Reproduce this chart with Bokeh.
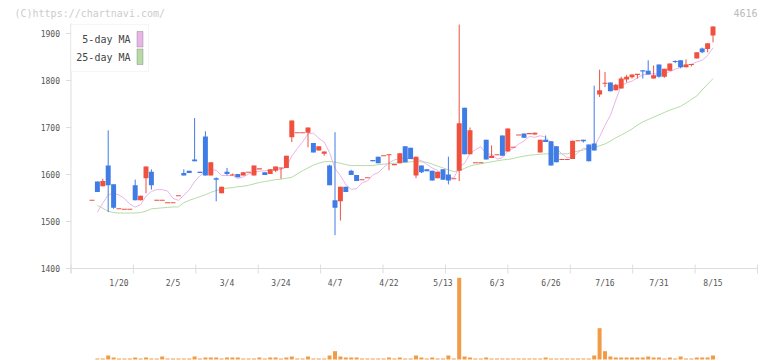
import numpy as np
from bokeh.plotting import figure
from bokeh.models import Range1d, Label, BoxAnnotation
from bokeh.core.properties import value
from bokeh.embed import file_html
from bokeh.resources import INLINE

nan = float("nan")

# ---------------- data ----------------
opens = [1545, 1585, 1575, 1619, 1579, 1527, 1526, 1526, 1577, 1545,
         1592, 1606, 1545, 1545, 1540, 1540, 1555, 1603, 1608, 1632,
         1606, 1681, 1598, 1592, 1560, 1606, 1598, 1601, 1598, 1605,
         1598, 1612, 1605, 1601, 1608, 1614, 1614, 1679, 1689, 1689,
         1689, 1667, 1651, 1644, 1619, 1545, 1543, 1574, 1608, 1599,
         1589, 1593, 1631, 1638, 1640, 1642, 1621, 1624, 1660, 1657,
         1598, 1619, 1611, 1608, 1592, 1611, 1600, 1591, 1608, 1742,
         1643, 1625, 1625, 1674, 1635, 1642, 1683, 1649, 1658, 1684,
         1687, 1687, 1685, 1647, 1674, 1671, 1660, 1632, 1632, 1633,
         1672, 1674, 1664, 1666, 1770, 1794, 1796, 1779, 1783, 1802,
         1807, 1813, 1821, 1821, 1804, 1834, 1808, 1821, 1841, 1843,
         1828, 1834, 1847, 1868, 1867, 1896]

highs = [1545, 1585, 1591, 1694, 1579, 1527, 1526, 1526, 1589, 1555,
         1617, 1611, 1546, 1545, 1540, 1540, 1555, 1611, 1608, 1720,
         1606, 1692, 1626, 1594, 1574, 1614, 1602, 1601, 1605, 1605,
         1619, 1612, 1605, 1611, 1617, 1614, 1640, 1715, 1689, 1689,
         1700, 1667, 1660, 1649, 1621, 1690, 1574, 1574, 1610, 1599,
         1589, 1593, 1631, 1638, 1640, 1642, 1621, 1645, 1660, 1657,
         1638, 1619, 1611, 1608, 1606, 1611, 1638, 1591, 1919, 1742,
         1700, 1625, 1625, 1674, 1662, 1642, 1683, 1698, 1658, 1684,
         1687, 1687, 1689, 1674, 1683, 1671, 1660, 1632, 1632, 1672,
         1672, 1674, 1664, 1789, 1823, 1818, 1796, 1793, 1808, 1812,
         1813, 1813, 1821, 1843, 1832, 1834, 1825, 1836, 1843, 1843,
         1845, 1834, 1860, 1870, 1879, 1915]

lows = [1545, 1563, 1575, 1520, 1527, 1527, 1526, 1526, 1545, 1545,
        1560, 1568, 1545, 1545, 1540, 1540, 1555, 1598, 1603, 1628,
        1603, 1598, 1598, 1543, 1560, 1598, 1598, 1594, 1598, 1605,
        1598, 1612, 1599, 1601, 1605, 1591, 1614, 1669, 1689, 1689,
        1658, 1647, 1651, 1640, 1577, 1471, 1502, 1563, 1599, 1586,
        1589, 1593, 1628, 1624, 1640, 1609, 1621, 1624, 1626, 1633,
        1592, 1603, 1607, 1587, 1592, 1589, 1579, 1591, 1586, 1643,
        1643, 1625, 1625, 1632, 1635, 1642, 1640, 1649, 1658, 1684,
        1678, 1687, 1685, 1647, 1669, 1619, 1626, 1632, 1632, 1633,
        1672, 1668, 1628, 1651, 1765, 1786, 1777, 1779, 1783, 1796,
        1804, 1804, 1804, 1813, 1804, 1806, 1806, 1821, 1837, 1826,
        1828, 1830, 1847, 1858, 1860, 1881]

closes = [1545, 1563, 1586, 1577, 1529, 1527, 1526, 1526, 1545, 1555,
          1617, 1577, 1545, 1545, 1540, 1540, 1555, 1598, 1603, 1628,
          1603, 1598, 1626, 1589, 1574, 1601, 1600, 1594, 1605, 1605,
          1619, 1612, 1599, 1611, 1617, 1614, 1640, 1715, 1689, 1689,
          1700, 1647, 1660, 1649, 1577, 1529, 1574, 1563, 1599, 1586,
          1589, 1593, 1628, 1624, 1640, 1642, 1621, 1645, 1626, 1633,
          1638, 1605, 1607, 1587, 1606, 1589, 1587, 1591, 1709, 1643,
          1694, 1625, 1625, 1632, 1640, 1642, 1640, 1698, 1658, 1684,
          1678, 1687, 1689, 1674, 1669, 1619, 1626, 1632, 1632, 1672,
          1672, 1671, 1628, 1651, 1779, 1794, 1777, 1791, 1804, 1808,
          1813, 1813, 1820, 1813, 1811, 1808, 1825, 1836, 1840, 1828,
          1834, 1834, 1860, 1860, 1879, 1915]

volumes = [0, 100, 100, 400, 200, 100, 100, 100, 200, 100,
           200, 100, 100, 300, 100, 100, 100, 100, 100, 300,
           100, 200, 200, 200, 100, 200, 200, 200, 100, 100,
           100, 200, 100, 200, 200, 100, 200, 300, 100, 100,
           300, 100, 100, 100, 400, 830, 300, 200, 200, 200,
           100, 100, 100, 100, 100, 200, 100, 200, 100, 100,
           400, 200, 100, 200, 100, 100, 400, 100, 8170, 300,
           200, 100, 100, 200, 100, 100, 100, 100, 100, 100,
           100, 100, 100, 100, 200, 100, 100, 100, 100, 100,
           100, 100, 100, 400, 3130, 830, 300, 200, 200, 200,
           200, 200, 200, 300, 200, 200, 100, 200, 100, 300,
           100, 100, 200, 200, 200, 400]

ma5 = [nan, 1520, 1539, 1557, 1560, 1556.4, 1549, 1537, 1530.6, 1535.8,
       1553.8, 1564, 1567.8, 1567.8, 1564.8, 1549.4, 1545, 1555.6, 1567.2, 1584.8,
       1597.4, 1606, 1611.6, 1608.8, 1598, 1597.6, 1598, 1591.6, 1594.8, 1601,
       1604.6, 1607, 1608, 1609.2, 1611.6, 1610.6, 1616.2, 1639.4, 1655, 1669.4,
       1686.6, 1688, 1677, 1669, 1646.6, 1612.4, 1597.8, 1578.4, 1568.4, 1570.2,
       1582.2, 1586, 1599, 1604, 1614.8, 1625.4, 1631, 1634.4, 1634.8, 1633.4,
       1632.6, 1629.4, 1621.8, 1614, 1608.6, 1598.8, 1595.2, 1592, 1616.4, 1623.8,
       1644.8, 1652.4, 1659.2, 1643.8, 1643.2, 1632.8, 1635.8, 1650.4, 1655.6, 1664.4,
       1671.6, 1681, 1679.2, 1682.4, 1679.4, 1667.6, 1655.4, 1644, 1635.6, 1636.2,
       1646.8, 1655.8, 1655, 1658.8, 1680.2, 1704.6, 1725.8, 1758.4, 1789, 1794.8,
       1798.6, 1805.8, 1811.8, 1813.6, 1814.2, 1813.2, 1815.6, 1818.6, 1824.2, 1827.6,
       1832.8, 1834.6, 1839.4, 1843.2, 1853.4, 1869.6]

ma25 = [nan, 1534, 1528, 1522, 1519, 1518, 1518, 1518, 1518, 1519,
        1522, 1527, 1528, 1529, 1530, 1531, 1531, 1540, 1545, 1549,
        1553, 1557, 1562, 1566, 1569, 1571, 1572, 1574, 1575, 1577,
        1580, 1583, 1585, 1587, 1589, 1590, 1592, 1594, 1601, 1608,
        1614, 1620, 1624, 1627, 1628, 1626, 1624, 1621, 1619, 1619,
        1619, 1619, 1619, 1621, 1622, 1623, 1624, 1625, 1626, 1627,
        1628, 1627, 1626, 1622, 1618, 1614, 1610, 1606, 1608, 1613,
        1618, 1621, 1623, 1625, 1627, 1629, 1631, 1632, 1634, 1637,
        1639, 1641, 1642, 1643, 1644, 1644, 1644, 1644, 1644, 1647,
        1650, 1652, 1655, 1658, 1661, 1665, 1671, 1678, 1684, 1690,
        1697, 1705, 1712, 1717, 1722, 1727, 1732, 1737, 1741, 1745,
        1752, 1760, 1767, 1780, 1792, 1804]

tick_labels = ["1/20", "2/5", "3/4", "3/24", "4/7", "4/22",
               "5/13", "6/3", "6/26", "7/16", "7/31", "8/15"]
label_index = [5, 15, 25, 35, 45, 55, 65, 75, 85, 95, 105, 115]
y_ticks = [1400, 1500, 1600, 1700, 1800, 1900]
legend_labels = ["5-day MA", "25-day MA"]
title_text = "(C)https://chartnavi.com/"
code_text = "4616"

# ---------------- styles ----------------
RED = "#f0503e"
BLUE = "#3f7ce6"
ORANGE = "#f39a45"
PINK = "#e9b5e9"
GREEN = "#b6dba6"
AXIS = "#dddddd"
LABEL = "#555555"
MONO = "DejaVu Sans Mono"

# ---------------- geometry (pixels of the picture) ----------------
W, H = 772, 361
PX_PER_BAR = 5.4
FIRST_BAR_PX = 91.5
PX_PER_UNIT = 0.47
Y1900_PX = 33.0
AX_L, AX_R = 70.5, 757.0      # price panel left / right edge
AX_T, AX_B = 23.0, 268.0      # price panel top / x-axis line
VOL_BASE_PX = 359.0
VOL_MAX_PX = 81.7

x_start = -FIRST_BAR_PX / PX_PER_BAR
x_end = x_start + W / PX_PER_BAR
y_top = 1900 + Y1900_PX / PX_PER_UNIT
y_bot = y_top - H / PX_PER_UNIT
vol_per_px = max(volumes) / VOL_MAX_PX
vol_start = -(H - VOL_BASE_PX) * vol_per_px
vol_end = vol_start + H * vol_per_px


def px_x(px):
    return x_start + px / PX_PER_BAR


def px_y(py):
    return y_top - py / PX_PER_UNIT


p = figure(width=W, height=H, output_backend="svg", toolbar_location=None,
           x_range=Range1d(x_start, x_end), y_range=Range1d(y_bot, y_top),
           x_axis_location=None, y_axis_location=None)
p.min_border = 0
p.min_border_left = 0
p.min_border_right = 0
p.min_border_top = 0
p.min_border_bottom = 0
p.outline_line_color = None
p.grid.visible = False
p.background_fill_color = "white"
p.border_fill_color = "white"

# ---- y axis (drawn as glyphs) ----
p.segment(x0=[px_x(AX_L)], y0=[px_y(AX_T)], x1=[px_x(AX_L)], y1=[px_y(AX_B + 5)],
          line_color=AXIS, line_width=1)
p.segment(x0=[px_x(AX_L - 5)] * len(y_ticks), y0=y_ticks,
          x1=[px_x(AX_L)] * len(y_ticks), y1=y_ticks, line_color=AXIS, line_width=1)
p.text(x=[px_x(AX_L - 11)] * len(y_ticks), y=y_ticks, text=[str(t) for t in y_ticks],
       text_align="right", text_baseline="middle", text_font=value(MONO),
       text_font_size="8px", text_color=LABEL)

# ---- x axis (drawn as glyphs) ----
p.segment(x0=[px_x(AX_L)], y0=[min(y_ticks)], x1=[px_x(AX_R)], y1=[min(y_ticks)],
          line_color=AXIS, line_width=1)
tick_px = np.linspace(AX_L, AX_R, len(tick_labels))
tick_x = [px_x(t) for t in tick_px]
p.segment(x0=tick_x, y0=[px_y(AX_B - 4)] * len(tick_x), x1=tick_x,
          y1=[px_y(AX_B + 5)] * len(tick_x), line_color=AXIS, line_width=1)
p.text(x=label_index, y=[px_y(AX_B + 15)] * len(label_index), text=tick_labels,
       text_align="center", text_baseline="middle", text_font=value(MONO),
       text_font_size="8px", text_color=LABEL)

# ---- candles ----
idx = np.arange(len(closes))
o = np.array(opens, float)
c = np.array(closes, float)
up = c >= o
colors = [RED if u else BLUE for u in up]
btop = np.maximum(o, c)
bbot = np.minimum(o, c)
MIN_BODY = 2.2
mid = (btop + bbot) / 2
thin = (btop - bbot) < MIN_BODY
btop = np.where(thin, mid + MIN_BODY / 2, btop)
bbot = np.where(thin, mid - MIN_BODY / 2, bbot)

# volume
p.extra_y_ranges = {"vol": Range1d(vol_start, vol_end)}
p.vbar(x=idx, width=0.74, top=volumes, bottom=0, y_range_name="vol",
       fill_color=ORANGE, line_color=None)

# moving averages
p.line(idx, ma25, line_color=GREEN, line_width=1)
p.line(idx, ma5, line_color=PINK, line_width=1)

p.segment(x0=idx, y0=lows, x1=idx, y1=highs, line_color=colors, line_width=1)
p.vbar(x=idx, width=0.92, top=btop, bottom=bbot, fill_color=colors, line_color=None)

# ---- legend drawn by hand (text left, swatch right) ----
p.add_layout(BoxAnnotation(left=px_x(AX_L), right=px_x(148), top=px_y(24),
                           bottom=px_y(71), fill_color="white", fill_alpha=1,
                           line_color=AXIS, line_width=1))
sw_colors = [PINK, GREEN]
sw_tops = [31, 48.5]
for lab, col, t in zip(legend_labels, sw_colors, sw_tops):
    p.add_layout(BoxAnnotation(left=px_x(136.5), right=px_x(142.5), top=px_y(t),
                               bottom=px_y(t + 15.5), fill_color=col, fill_alpha=1,
                               line_color="#555555", line_width=1))
    p.add_layout(Label(x=px_x(130), y=px_y(t + 8), text=lab, text_align="right",
                       text_baseline="middle", text_font=MONO, text_font_size="10px",
                       text_color="#444444"))

p.add_layout(Label(x=px_x(14), y=px_y(12.5), text=title_text, text_align="left",
                   text_baseline="middle", text_font=MONO, text_font_size="10px",
                   text_color="#cccccc"))
p.add_layout(Label(x=px_x(757), y=px_y(12.5), text=code_text, text_align="right",
                   text_baseline="middle", text_font=MONO, text_font_size="10px",
                   text_color="#bbbbbb"))

open("out.html", "w").write(file_html(p, INLINE))
